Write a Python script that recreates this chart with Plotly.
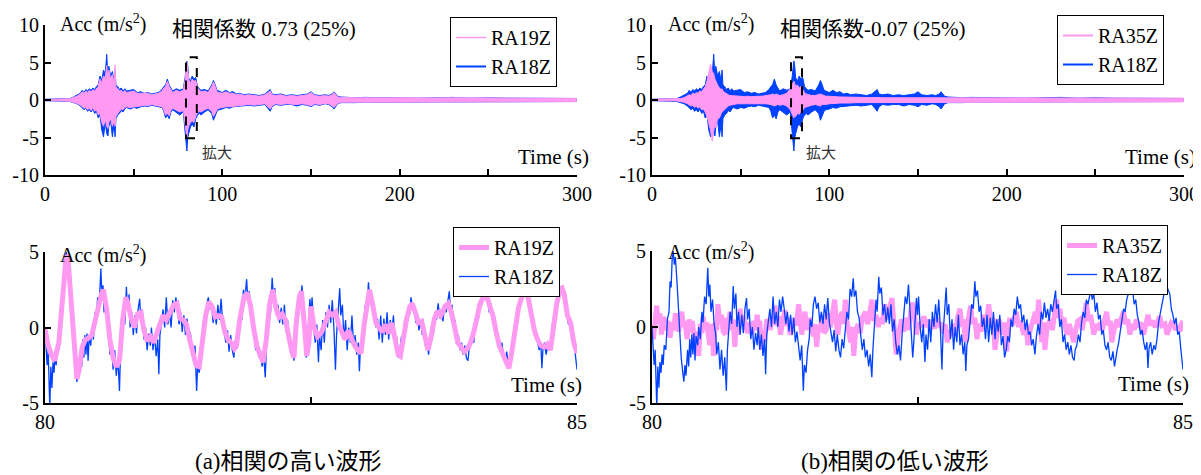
import plotly.graph_objects as go

# ---------------- DATA ----------------
PINK = "#FF99F2"
BLUE = "#0040FF"

# Top panels: envelope (upper / lower) of the 0-300 s records
T_TOP = [0, 5, 10, 14, 16, 18, 20, 21, 22, 23, 24, 25, 26, 27, 28, 29, 30, 31, 32, 33, 34, 34.8, 35.5, 36, 37, 38, 39,
         39.5, 40, 41, 42, 43, 44, 45, 46, 48, 50, 52, 54, 56, 58, 60, 62, 64, 66, 67, 68, 69, 70, 71, 72, 74, 76, 78,
         79, 80, 80.5, 81, 82, 83, 84, 85, 86, 87, 88, 90, 92, 94, 95, 96, 97, 98, 100, 102, 104, 106, 108, 110, 112,
         115, 118, 121, 124, 127, 128, 130, 133, 136, 139, 142, 145, 148, 150, 152, 155, 158, 160, 162, 163, 165, 167,
         170, 175, 180, 190, 200, 210, 220, 230, 240, 250, 260, 270, 280, 290, 299.6]

RA18Z_TOP_UP = [0.1, 0.12, 0.15, 0.2, 0.4, 0.6, 0.9, 1.3, 1.0, 1.4, 1.2, 1.5, 1.3, 1.6, 1.4, 1.8, 2.0, 3.2, 2.6, 4.0,
                3.5, 6.1, 3.0, 4.5, 3.2, 3.8, 2.5, 4.0, 2.0, 1.8, 1.4, 1.6, 1.2, 1.5, 1.2, 1.3, 1.4, 1.0, 1.1, 0.9,
                1.0, 0.8, 0.9, 1.0, 1.4, 1.8, 2.0, 2.8, 2.0, 1.5, 1.2, 1.5, 1.3, 1.5, 3.0, 5.2, 4.5, 3.0, 2.5, 3.2,
                2.8, 3.0, 1.8, 1.5, 1.3, 1.4, 1.2, 2.0, 2.6, 2.0, 1.3, 1.2, 1.0, 1.3, 1.0, 1.1, 0.8, 0.9, 0.7, 0.8,
                0.7, 0.6, 0.8, 1.4, 0.8, 0.7, 0.8, 0.6, 0.7, 0.6, 0.7, 0.8, 1.1, 0.7, 0.6, 0.7, 0.6, 0.8, 1.1, 0.5,
                0.4, 0.35, 0.3, 0.35, 0.3, 0.3, 0.25, 0.3, 0.35, 0.25, 0.3, 0.25, 0.25, 0.2, 0.2, 0.2]
RA18Z_TOP_LO = [-0.1, -0.12, -0.15, -0.2, -0.35, -0.5, -0.8, -1.0, -1.3, -1.1, -1.5, -1.3, -1.6, -1.2, -1.8, -1.5,
                -2.4, -2.0, -4.0, -4.9, -3.0, -4.5, -4.8, -3.5, -2.8, -4.9, -3.2, -4.9, -2.5, -2.0, -1.8, -1.4, -1.6,
                -1.2, -1.0, -1.2, -1.0, -1.1, -0.9, -0.8, -0.9, -0.7, -0.8, -0.9, -1.0, -1.5, -2.4, -2.0, -2.5, -1.6,
                -1.3, -1.6, -2.0, -1.6, -4.0, -6.8, -5.0, -4.5, -3.6, -3.2, -3.6, -2.5, -2.0, -1.8, -2.0, -1.6, -1.3,
                -1.8, -2.7, -2.0, -1.5, -1.3, -1.2, -1.0, -1.1, -0.9, -0.9, -0.8, -0.8, -0.7, -0.8, -0.7, -0.6, -1.5,
                -0.9, -0.6, -0.7, -0.6, -0.6, -0.8, -0.6, -0.7, -0.9, -0.6, -0.7, -0.5, -0.6, -0.9, -1.2, -0.5, -0.35,
                -0.3, -0.35, -0.3, -0.3, -0.25, -0.3, -0.25, -0.3, -0.25, -0.25, -0.3, -0.2, -0.25, -0.2, -0.2]

RA19Z_TOP_UP = [0.08, 0.1, 0.12, 0.18, 0.35, 0.5, 0.8, 1.1, 0.9, 1.2, 1.0, 1.3, 1.1, 1.4, 1.2, 1.5, 1.8, 2.8, 2.3,
                3.2, 3.0, 4.6, 2.8, 4.0, 2.8, 3.4, 2.3, 4.7, 1.8, 1.5, 1.2, 1.3, 1.0, 1.3, 1.0, 1.1, 1.2, 0.9, 0.9,
                0.8, 0.9, 0.7, 0.8, 0.9, 1.2, 1.6, 1.8, 2.5, 1.8, 1.3, 1.0, 1.3, 1.1, 1.3, 2.6, 5.1, 4.0, 2.8, 2.2,
                2.8, 2.5, 2.6, 1.6, 1.3, 1.1, 1.2, 1.0, 1.8, 2.4, 1.8, 1.1, 1.0, 0.9, 1.1, 0.9, 0.9, 0.7, 0.8, 0.6,
                0.7, 0.6, 0.5, 0.7, 1.2, 0.7, 0.6, 0.7, 0.5, 0.6, 0.5, 0.6, 0.7, 1.0, 0.6, 0.5, 0.6, 0.5, 0.7, 1.0,
                0.4, 0.35, 0.3, 0.3, 0.3, 0.28, 0.28, 0.25, 0.28, 0.3, 0.25, 0.28, 0.25, 0.25, 0.22, 0.22, 0.22]
RA19Z_TOP_LO = [-0.08, -0.1, -0.12, -0.18, -0.3, -0.45, -0.7, -0.9, -1.1, -1.0, -1.3, -1.1, -1.4, -1.0, -1.5, -1.3,
                -2.0, -1.8, -3.0, -3.5, -2.6, -3.5, -3.8, -3.0, -2.5, -3.5, -2.8, -3.5, -2.2, -1.8, -1.5, -1.2, -1.3,
                -1.0, -0.9, -1.0, -0.9, -0.9, -0.8, -0.7, -0.8, -0.6, -0.7, -0.8, -0.9, -1.3, -2.0, -1.8, -2.1, -1.4,
                -1.1, -1.4, -1.6, -1.4, -3.0, -5.0, -4.0, -3.5, -3.0, -2.8, -3.0, -2.2, -1.7, -1.5, -1.6, -1.3, -1.1,
                -1.5, -2.2, -1.7, -1.3, -1.1, -1.0, -0.9, -0.9, -0.8, -0.8, -0.7, -0.7, -0.6, -0.7, -0.6, -0.5, -1.2,
                -0.8, -0.5, -0.6, -0.5, -0.5, -0.6, -0.5, -0.6, -0.8, -0.5, -0.6, -0.45, -0.5, -0.8, -1.0, -0.45,
                -0.3, -0.3, -0.3, -0.3, -0.28, -0.25, -0.28, -0.25, -0.28, -0.25, -0.25, -0.28, -0.22, -0.25, -0.22,
                -0.22]

RA35Z_TOP_UP = [0.1, 0.1, 0.1, 0.12, 0.2, 0.3, 0.5, 0.7, 0.6, 0.9, 0.8, 1.0, 0.9, 1.2, 1.1, 1.4, 1.8, 2.5, 3.5, 4.8,
                3.8, 3.5, 2.8, 2.5, 2.0, 1.6, 1.4, 1.5, 1.2, 1.0, 0.8, 0.7, 0.6, 0.6, 0.5, 0.5, 0.5, 0.45, 0.5, 0.45,
                0.5, 0.5, 0.5, 0.55, 0.6, 0.7, 0.8, 0.7, 0.8, 0.7, 0.6, 0.7, 0.9, 1.5, 2.0, 2.5, 2.2, 1.8, 2.0, 1.6,
                1.8, 1.3, 1.0, 0.8, 0.7, 0.6, 0.6, 0.7, 0.8, 0.7, 0.6, 0.5, 0.5, 0.45, 0.45, 0.4, 0.4, 0.38, 0.4,
                0.35, 0.35, 0.35, 0.32, 0.35, 0.32, 0.3, 0.3, 0.3, 0.3, 0.28, 0.3, 0.28, 0.3, 0.28, 0.28, 0.27, 0.27,
                0.28, 0.28, 0.25, 0.25, 0.25, 0.25, 0.25, 0.25, 0.25, 0.25, 0.25, 0.25, 0.25, 0.25, 0.25, 0.25, 0.25,
                0.25, 0.25]
RA35Z_TOP_LO = [-0.1, -0.1, -0.1, -0.12, -0.2, -0.3, -0.5, -0.6, -0.8, -0.7, -1.0, -0.8, -1.1, -0.9, -1.3, -1.2,
                -1.6, -2.2, -3.0, -4.0, -5.5, -4.0, -3.0, -3.7, -2.5, -2.4, -1.8, -1.6, -1.4, -1.2, -1.0, -0.8, -0.7,
                -0.6, -0.6, -0.5, -0.5, -0.5, -0.45, -0.45, -0.5, -0.45, -0.5, -0.5, -0.55, -0.6, -0.7, -0.8, -0.7,
                -0.6, -0.7, -0.6, -0.8, -1.3, -1.8, -2.4, -2.0, -2.2, -1.8, -1.9, -1.5, -1.4, -1.0, -0.9, -0.8, -0.7,
                -0.6, -0.7, -0.8, -0.6, -0.6, -0.6, -0.5, -0.45, -0.45, -0.4, -0.4, -0.38, -0.4, -0.35, -0.35,
                -0.35, -0.32, -0.35, -0.32, -0.3, -0.3, -0.3, -0.3, -0.28, -0.3, -0.28, -0.3, -0.28, -0.28, -0.27,
                -0.27, -0.28, -0.28, -0.25, -0.25, -0.25, -0.25, -0.25, -0.25, -0.25, -0.25, -0.25, -0.25, -0.25,
                -0.25, -0.25, -0.25, -0.25, -0.25, -0.25]

# Bottom panels: 80-85 s zoom
RA18Z_T = [80.00, 80.01, 80.02, 80.03, 80.035, 80.045, 80.055, 80.065, 80.075, 80.085, 80.095, 80.105, 80.115, 80.13,
           80.145, 80.16, 80.17, 80.18, 80.19, 80.20, 80.21, 80.22, 80.235, 80.25, 80.26, 80.275, 80.29, 80.30, 80.31,
           80.32, 80.335, 80.345, 80.355, 80.365, 80.375, 80.385, 80.395, 80.405, 80.415, 80.43, 80.44, 80.455, 80.47,
           80.48, 80.495, 80.51, 80.525, 80.535, 80.545, 80.555, 80.57, 80.585, 80.60, 80.61, 80.625, 80.64, 80.655,
           80.67, 80.685, 80.70, 80.71, 80.72, 80.735, 80.75, 80.765, 80.775, 80.79, 80.80, 80.815, 80.83, 80.845,
           80.86, 80.875, 80.89, 80.90, 80.915, 80.93, 80.945, 80.96, 80.975, 80.99, 81.00, 81.015, 81.03, 81.045,
           81.06, 81.07, 81.08, 81.095, 81.11, 81.125, 81.14, 81.155, 81.17, 81.185, 81.20, 81.215, 81.23, 81.245,
           81.26, 81.275, 81.29, 81.305, 81.32, 81.335, 81.35, 81.365, 81.38, 81.395, 81.41, 81.425, 81.435, 81.45,
           81.465, 81.48, 81.49, 81.505, 81.52, 81.535, 81.55, 81.565, 81.58, 81.595, 81.61, 81.625, 81.64, 81.655,
           81.67, 81.685, 81.70, 81.715, 81.73, 81.745, 81.76, 81.775, 81.79, 81.805, 81.82, 81.835, 81.85, 81.865,
           81.88, 81.895, 81.905, 81.92, 81.935, 81.95, 81.965, 81.98, 81.995, 82.01, 82.025, 82.04, 82.055, 82.07,
           82.08, 82.095, 82.11, 82.12, 82.135, 82.145, 82.16, 82.175, 82.19, 82.205, 82.22, 82.235, 82.25, 82.265,
           82.28, 82.295, 82.31, 82.325, 82.34, 82.355, 82.37, 82.385, 82.40, 82.415, 82.43, 82.44, 82.455, 82.465,
           82.48, 82.49, 82.50, 82.51, 82.525, 82.54, 82.555, 82.57, 82.58, 82.595, 82.61, 82.625, 82.64, 82.655,
           82.67, 82.685, 82.70, 82.715, 82.73, 82.74, 82.755, 82.77, 82.78, 82.795, 82.81, 82.825, 82.84, 82.855,
           82.87, 82.885, 82.90, 82.915, 82.93, 82.945, 82.955, 82.965, 82.98, 82.995, 83.01, 83.025, 83.04, 83.05,
           83.065, 83.08, 83.095, 83.11, 83.125, 83.14, 83.155, 83.17, 83.185, 83.20, 83.215, 83.23, 83.245, 83.26,
           83.275, 83.29, 83.305, 83.32, 83.335, 83.35, 83.365, 83.38, 83.395, 83.41, 83.425, 83.44, 83.455, 83.47,
           83.485, 83.50, 83.515, 83.53, 83.545, 83.56, 83.575, 83.59, 83.605, 83.62, 83.635, 83.65, 83.665, 83.68,
           83.695, 83.71, 83.725, 83.74, 83.755, 83.77, 83.785, 83.80, 83.81, 83.825, 83.84, 83.855, 83.87, 83.885,
           83.90, 83.915, 83.93, 83.945, 83.96, 83.975, 83.985, 84.00, 84.015, 84.03, 84.045, 84.06, 84.075, 84.09,
           84.105, 84.12, 84.135, 84.145, 84.16, 84.175, 84.19, 84.205, 84.22, 84.235, 84.25, 84.265, 84.28, 84.295,
           84.31, 84.325, 84.34, 84.355, 84.365, 84.38, 84.395, 84.41, 84.425, 84.44, 84.455, 84.47, 84.485, 84.50,
           84.51, 84.525, 84.54, 84.555, 84.57, 84.585, 84.60, 84.615, 84.63, 84.645, 84.66, 84.67, 84.68, 84.695,
           84.71, 84.725, 84.74, 84.755, 84.77, 84.785, 84.80, 84.815, 84.83, 84.845, 84.86, 84.875, 84.89, 84.905,
           84.92, 84.935, 84.95, 84.965, 84.98, 84.99, 85.00]
RA18Z_V = [0.0, -1.0, -2.5, -1.5, -3.8, -5.3, -2.6, -4.0, -2.3, -3.0, -1.8, -2.5, -1.2, -1.5, 0.5, 1.0, 3.0, 2.6, 4.5,
           5.0, 4.1, 4.6, 3.0, 1.0, -0.5, -2.0, -3.0, -3.6, -2.5, -3.2, -1.5, -2.6, -0.8, -2.0, -0.5, -1.8, -0.4, -2.2,
           -0.6, -1.2, 0.0, -0.8, 1.0, 0.3, 2.0, 1.5, 3.9, 2.0, 2.8, 1.0, 1.8, 0.2, -0.5, -1.8, -1.0, -2.8, -1.5, -3.2,
           -2.0, -4.2, -1.5, -0.5, 1.0, 0.2, 2.7, 1.2, 2.2, 0.0, 1.0, -0.5, 0.8, -0.4, 1.2, 1.9, 0.5, 1.2, -0.8, 0.0,
           -1.5, -0.4, -1.2, 0.0, -1.5, -0.5, -1.9, -0.8, -3.1, -0.5, 0.5, 1.2, 0.0, 2.0, 0.2, 1.0, 0.0, 1.8, 1.0, 2.0,
           1.2, 0.2, 1.0, -0.3, 0.8, -0.5, 0.6, -1.0, -0.3, -1.5, -2.2, -1.2, -4.2, -2.5, -3.0, -1.5, -0.8, 0.5, 0.0,
           1.5, 2.0, 1.2, 1.6, 0.3, 1.0, 0.2, 1.5, 0.5, 1.9, 0.3, -0.5, -1.0, -0.2, -1.6, -0.5, -1.5, -2.0, -0.8, -1.4,
           0.0, 1.0, 0.5, 2.5, 2.0, 3.2, 2.0, 2.4, 1.0, 0.6, -0.5, -1.5, -0.8, -2.0, -1.5, -2.6, -1.8, -3.3, -1.5, 0.5,
           1.8, 1.0, 3.3, 2.2, 2.6, 0.8, 1.5, 0.3, 1.3, 0.2, 1.5, -0.3, 0.5, -1.0, -1.8, -1.2, -2.2, -0.5, 1.0, 2.0,
           1.5, 2.8, 1.0, -0.5, -2.0, -1.0, 0.5, 1.9, 0.8, 2.0, 0.0, -1.0, 0.2, -2.3, -0.5, -1.5, 0.5, -1.0, 1.0, 0.0,
           1.5, 0.3, 1.8, 0.0, -2.8, -0.5, 1.0, 2.6, 0.8, 1.5, -0.8, 0.5, -1.5, 0.0, -1.0, 0.8, -1.2, -0.5, -1.8, -1.0,
           -2.9, -1.2, -0.8, 0.5, 1.5, 1.2, 3.0, 2.0, 2.4, 1.0, 1.4, 0.0, 0.6, -0.8, 0.8, -1.0, 0.6, -0.5, 1.0, -0.8,
           0.5, -0.3, 0.8, -1.2, -0.6, -2.0, -1.5, -0.6, -1.0, 0.5, 0.0, 1.2, 0.8, 2.0, 1.2, 1.5, 0.3, 0.8, -0.2, 0.5,
           -0.5, -0.3, -1.2, -0.8, -1.8, -0.6, 0.2, -0.5, 1.0, 0.5, 1.6, 0.6, 1.2, 0.4, 1.5, 1.0, 1.8, 2.4, 1.2, 1.5,
           0.0, 0.5, -1.0, -0.5, -1.5, -1.0, -1.8, -1.2, -2.0, -2.2, -1.5, -1.2, -0.5, -1.0, 0.3, 1.0, 0.6, 1.8, 1.5,
           2.0, 2.5, 1.8, 2.2, 1.0, 1.6, 0.5, 0.8, -0.5, -0.2, -1.2, -1.5, -1.0, -2.0, -2.2, -1.6, -2.6, -2.0, -1.5,
           -1.0, -0.3, 0.5, 1.2, 1.0, 1.8, 2.2, 2.8, 2.2, 2.5, 1.5, 1.8, 0.8, 0.3, -0.5, -0.2, -1.0, -1.5, -1.0, -2.7,
           -1.4, -1.0, -1.8, -1.2, -1.5, -0.8, 0.3, 0.8, 1.5, 1.8, 2.5, 2.7, 2.5, 2.2, 1.2, 0.8, 0.2, 0.6, -0.5, -0.3,
           -1.5, -2.0, -2.8]

RA19Z_T = [80.00, 80.03, 80.06, 80.09, 80.11, 80.13, 80.16, 80.18, 80.20, 80.22, 80.25, 80.28, 80.30, 80.32, 80.35,
           80.38, 80.41, 80.44, 80.47, 80.50, 80.53, 80.55, 80.58, 80.61, 80.64, 80.67, 80.70, 80.73, 80.76, 80.78,
           80.81, 80.84, 80.87, 80.90, 80.93, 80.96, 80.99, 81.02, 81.05, 81.08, 81.11, 81.14, 81.17, 81.21, 81.24,
           81.27, 81.30, 81.33, 81.36, 81.39, 81.42, 81.45, 81.48, 81.51, 81.54, 81.57, 81.60, 81.63, 81.66, 81.69,
           81.72, 81.75, 81.78, 81.80, 81.83, 81.87, 81.90, 81.93, 81.96, 81.99, 82.02, 82.05, 82.08, 82.11, 82.14,
           82.17, 82.20, 82.23, 82.26, 82.29, 82.32, 82.34, 82.36, 82.39, 82.41, 82.44, 82.46, 82.48, 82.50, 82.53,
           82.56, 82.60, 82.64, 82.67, 82.70, 82.73, 82.76, 82.79, 82.82, 82.85, 82.88, 82.91, 82.94, 82.97, 83.00,
           83.03, 83.05, 83.08, 83.11, 83.14, 83.17, 83.20, 83.23, 83.26, 83.29, 83.32, 83.34, 83.37, 83.40, 83.43,
           83.45, 83.48, 83.51, 83.54, 83.57, 83.60, 83.63, 83.66, 83.69, 83.72, 83.76, 83.79, 83.82, 83.85, 83.88,
           83.91, 83.94, 83.97, 84.00, 84.03, 84.06, 84.09, 84.12, 84.15, 84.18, 84.21, 84.24, 84.27, 84.30, 84.33,
           84.36, 84.39, 84.42, 84.45, 84.48, 84.51, 84.54, 84.57, 84.60, 84.63, 84.66, 84.69, 84.72, 84.75, 84.78,
           84.81, 84.84, 84.86, 84.88, 84.91, 84.94, 84.97, 85.00]
RA19Z_V = [-0.1, -1.2, -1.8, -2.2, -1.6, -1.0, 1.5, 3.5, 4.8, 4.2, 1.5, -1.5, -3.4, -2.8, -1.3, -0.8, -0.7, -0.5, 0.5,
           1.5, 2.2, 2.5, 1.2, -0.8, -2.0, -2.6, -2.2, 0.5, 2.0, 1.6, 0.6, 0.0, 0.9, 1.0, -0.2, -0.9, -0.6, -1.0, -0.4,
           0.3, 0.8, 0.5, 0.9, 1.5, 1.6, 0.6, 0.5, 0.2, -0.8, -1.8, -2.5, -2.6, -1.0, 0.8, 1.7, 1.4, 0.7, 0.8, 0.7,
           -0.3, -0.8, -1.0, -1.4, -1.2, 0.5, 2.0, 2.3, 1.5, 0.0, -1.2, -1.8, -2.3, -0.8, 1.5, 2.5, 1.3, 0.7, 0.9, 0.5,
           -0.8, -1.6, -2.0, 0.2, 2.0, 2.4, 0.0, -1.9, -1.0, 1.4, 0.0, -0.6, -0.3, 0.6, 1.0, 0.8, 1.0, 0.2, -0.3, -0.8,
           -0.2, -0.8, -1.2, -1.5, -1.7, 0.2, 2.0, 2.5, 1.5, 0.3, 0.0, -0.3, 0.2, -0.4, 0.3, -0.8, -1.8, -1.9, -0.5,
           0.6, 1.4, 1.6, 1.0, 0.3, 0.4, -0.5, -1.5, -0.6, 0.6, 1.1, 0.8, 1.4, 1.6, 1.0, -0.2, -1.0, -1.3, -1.6, -1.4,
           -1.0, -0.3, 0.8, 1.6, 2.0, 2.2, 1.4, 0.8, -0.3, -1.2, -1.7, -2.3, -2.7, -1.5, 0.0, 1.3, 2.0, 2.5, 2.0, 0.8,
           -0.2, -0.8, -1.2, -1.3, -1.1, -1.5, 0.0, 1.6, 2.5, 2.6, 2.2, 0.8, 0.3, -1.0, -1.7]

RA35Z_T = [80.000, 80.013, 80.028, 80.044, 80.060, 80.075, 80.090, 80.105, 80.120, 80.135, 80.150, 80.170, 80.190,
           80.205, 80.220, 80.235, 80.250, 80.265, 80.280, 80.295, 80.310, 80.330, 80.350, 80.365, 80.380, 80.400,
           80.420, 80.440, 80.455, 80.470, 80.480, 80.500, 80.515, 80.530, 80.545, 80.560, 80.580, 80.595, 80.610,
           80.620, 80.640, 80.655, 80.670, 80.690, 80.705, 80.720, 80.735, 80.750, 80.765, 80.780, 80.795, 80.810,
           80.830, 80.845, 80.860, 80.880, 80.900, 80.920, 80.940, 80.960, 80.975, 80.990, 81.005, 81.015, 81.030,
           81.045, 81.060, 81.080, 81.100, 81.115, 81.130, 81.145, 81.160, 81.175, 81.190, 81.210, 81.230, 81.250,
           81.270, 81.285, 81.300, 81.320, 81.340, 81.360, 81.380, 81.395, 81.410, 81.425, 81.440, 81.460, 81.480,
           81.500, 81.520, 81.535, 81.550, 81.570, 81.585, 81.600, 81.620, 81.640, 81.660, 81.680, 81.700, 81.720,
           81.735, 81.750, 81.770, 81.790, 81.805, 81.820, 81.835, 81.850, 81.870, 81.885, 81.900, 81.915, 81.940,
           81.960, 81.980, 82.010, 82.030, 82.050, 82.070, 82.090, 82.110, 82.130, 82.150, 82.170, 82.190, 82.210,
           82.230, 82.260, 82.280, 82.300, 82.320, 82.350, 82.370, 82.390, 82.410, 82.430, 82.450, 82.465, 82.490,
           82.510, 82.530, 82.560, 82.580, 82.600, 82.620, 82.640, 82.660, 82.680, 82.700, 82.720, 82.740, 82.760,
           82.780, 82.800, 82.820, 82.840, 82.860, 82.880, 82.900, 82.920, 82.935, 82.950, 82.970, 82.985, 83.000,
           83.020, 83.040, 83.060, 83.080, 83.100, 83.120, 83.140, 83.155, 83.170, 83.190, 83.210, 83.230, 83.250,
           83.265, 83.280, 83.300, 83.320, 83.340, 83.355, 83.370, 83.390, 83.410, 83.430, 83.450, 83.470, 83.500,
           83.520, 83.540, 83.560, 83.590, 83.610, 83.625, 83.640, 83.655, 83.670, 83.685, 83.700, 83.720, 83.735,
           83.750, 83.770, 83.790, 83.810, 83.825, 83.840, 83.860, 83.880, 83.900, 83.910, 83.930, 83.950, 83.970,
           83.990, 84.010, 84.030, 84.050, 84.070, 84.090, 84.110, 84.130, 84.160, 84.180, 84.200, 84.220, 84.240,
           84.260, 84.280, 84.300, 84.315, 84.330, 84.350, 84.380, 84.400, 84.420, 84.440, 84.460, 84.480, 84.500,
           84.520, 84.540, 84.560, 84.580, 84.600, 84.630, 84.650, 84.670, 84.690, 84.710, 84.740, 84.760, 84.780,
           84.800, 84.830, 84.850, 84.870, 84.890, 84.910, 84.930, 84.950, 84.970, 84.985, 85.000]
RA35Z_V = [0.0, -0.8, 0.3, 1.4, 0.2, 0.9, -0.5, 0.6, 0.5, -0.2, 0.4, -0.7, 0.3, -0.2, 0.9, 0.1, -0.3, 0.5, 1.0, 0.0,
           0.4, -0.8, 0.5, -0.3, 0.4, -1.0, -0.3, -1.9, 0.2, -0.4, 0.7, -0.2, 0.3, -0.5, -1.2, 0.2, -1.9, 0.3, -0.2,
           1.5, 0.2, 0.8, -0.3, -0.5, 0.6, 0.1, 1.0, -0.2, 0.5, -1.3, 0.4, -0.5, 1.2, 0.2, 0.7, 0.1, -0.4, 0.3, -0.5,
           0.4, -0.2, 0.8, 0.0, 0.4, -1.5, -0.2, -1.0, 0.5, 0.3, -0.2, 0.8, 0.2, 1.4, 0.1, 0.7, -0.5, 0.4, 1.1, 0.1,
           0.6, -0.5, -0.2, 0.6, 0.1, 1.5, 0.3, -0.5, 0.4, 1.0, -0.2, 0.6, 0.0, -0.6, 0.2, -1.3, 0.1, -0.3, 0.8, -0.4,
           -0.2, 0.9, 0.0, 1.0, 1.8, 0.3, -0.5, 0.6, 1.0, 0.2, 1.8, 0.4, -0.5, -1.0, 0.0, -1.9, -0.5, 0.2, -0.4, 0.6,
           1.0, 0.2, 0.9, 1.8, 0.4, 0.8, 0.0, 0.6, 0.2, 1.5, 0.5, 1.0, 1.9, 0.0, -1.8, -0.5, 0.5, -0.3, 0.6, -0.2, 0.5,
           1.6, 1.2, -0.5, 0.3, 0.0, 0.7, 0.0, 0.5, -0.2, 0.4, -0.1, 0.6, 0.0, 0.3, -0.4, 0.2, -1.0, -0.2, -0.6, 0.2,
           -0.3, 0.7, 1.2, 0.0, 0.5, -1.0, 0.3, 0.8, 1.4, 0.2, 0.6, -0.8, 0.2, -0.3, 0.8, 0.0, 0.6, 1.5, 0.3, 0.6,
           -1.5, -0.3, 0.5, 0.2, -0.5, 0.3, -1.6, -0.2, 0.6, 0.1, 0.6, 1.0, 0.0, 0.4, -0.5, 0.2, -1.2, -0.2, 0.5, 1.0,
           0.2, 1.8, 0.5, -1.0, 0.3, -1.5, 0.0, 0.3, 0.5, -0.2, 0.8, 1.8, 0.6, 1.2, 0.2, 0.6, -0.3, -0.5, 0.2, -0.4,
           -1.0, -0.2, 0.4, 0.5, -0.2, 0.6, 1.6, 0.4, 0.8, -0.5, 0.2, -0.2, 0.3, -0.2, 0.6, 1.0, 0.1, 0.4, -1.0, -0.2,
           0.5, 0.0, 0.6, 1.0, 0.2, 0.5, -0.5, 0.2, -0.2, 0.5, 0.0, 0.3, -0.5, 0.2, 0.8, 0.1, 0.4, 0.0, 0.3, 0.7, 0.1,
           0.2, -0.5, 0.0, 0.3, 0.2, -0.2, 0.1, -0.3, 0.2, 0.4]

TOP_XTICKS = [0, 100, 200, 300]
TOP_XTEXT = ["0", "100", "200", "300"]
TOP_XMINOR = [50, 150, 250]
TOP_YTICKS = [-10, -5, 0, 5, 10]
TOP_YTEXT = ["-10", "-5", "0", "5", "10"]
BOT_XTICKS = [80, 85]
BOT_XTEXT = ["80", "85"]
BOT_XMINOR = [82.5]
BOT_YTICKS = [-5, 0, 5]
BOT_YTEXT = ["-5", "0", "5"]

# ---------------- FIGURE ----------------
W, H = 1201, 475
OFF = 8  # the page body has an 8 px margin; positions below are given in window pixels
SERIF = "Liberation Serif, Noto Sans CJK JP"


def px(x):
    return (x - OFF) / W


def py(y):
    return 1 - (y - OFF) / H


def envelope(t, up, lo):
    return list(t) + list(t)[::-1], list(up) + list(lo)[::-1]


fig = go.Figure()

# top-left
ex, ey = envelope(T_TOP, RA18Z_TOP_UP, RA18Z_TOP_LO)
fig.add_trace(go.Scatter(x=ex, y=ey, fill="toself", fillcolor=BLUE, mode="lines",
                         line=dict(color=BLUE, width=1), showlegend=False, xaxis="x", yaxis="y", hoverinfo="skip"))
ex, ey = envelope(T_TOP, RA19Z_TOP_UP, RA19Z_TOP_LO)
fig.add_trace(go.Scatter(x=ex, y=ey, fill="toself", fillcolor=PINK, mode="lines",
                         line=dict(color=PINK, width=1), showlegend=False, xaxis="x", yaxis="y", hoverinfo="skip"))
fig.add_trace(go.Scatter(x=[None], y=[None], mode="lines", line=dict(color=PINK, width=1.5), name="RA19Z",
                         legend="legend", legendrank=1, xaxis="x", yaxis="y"))
fig.add_trace(go.Scatter(x=[None], y=[None], mode="lines", line=dict(color=BLUE, width=2), name="RA18Z",
                         legend="legend", legendrank=2, xaxis="x", yaxis="y"))

# top-right
ex, ey = envelope(T_TOP, RA18Z_TOP_UP, RA18Z_TOP_LO)
fig.add_trace(go.Scatter(x=ex, y=ey, fill="toself", fillcolor=BLUE, mode="lines",
                         line=dict(color=BLUE, width=1), showlegend=False, xaxis="x2", yaxis="y2", hoverinfo="skip"))
ex, ey = envelope(T_TOP, RA35Z_TOP_UP, RA35Z_TOP_LO)
fig.add_trace(go.Scatter(x=ex, y=ey, fill="toself", fillcolor=PINK, mode="lines",
                         line=dict(color=PINK, width=1), showlegend=False, xaxis="x2", yaxis="y2", hoverinfo="skip"))
fig.add_trace(go.Scatter(x=[None], y=[None], mode="lines", line=dict(color=PINK, width=2), name="RA35Z",
                         legend="legend2", legendrank=1, xaxis="x2", yaxis="y2"))
fig.add_trace(go.Scatter(x=[None], y=[None], mode="lines", line=dict(color=BLUE, width=2), name="RA18Z",
                         legend="legend2", legendrank=2, xaxis="x2", yaxis="y2"))

# bottom-left (pink on top)
fig.add_trace(go.Scatter(x=RA18Z_T, y=RA18Z_V, mode="lines", line=dict(color=BLUE, width=1.3), name="RA18Z",
                         legend="legend3", legendrank=2, xaxis="x3", yaxis="y3"))
fig.add_trace(go.Scatter(x=RA19Z_T, y=RA19Z_V, mode="lines", line=dict(color=PINK, width=5), name="RA19Z",
                         legend="legend3", legendrank=1, xaxis="x3", yaxis="y3"))

# bottom-right (blue on top)
fig.add_trace(go.Scatter(x=RA35Z_T, y=RA35Z_V, mode="lines", line=dict(color=PINK, width=5), name="RA35Z",
                         legend="legend4", legendrank=1, xaxis="x4", yaxis="y4"))
fig.add_trace(go.Scatter(x=RA18Z_T, y=RA18Z_V, mode="lines", line=dict(color=BLUE, width=1.3), name="RA18Z",
                         legend="legend4", legendrank=2, xaxis="x4", yaxis="y4"))

axis_common = dict(showline=True, linecolor="black", linewidth=2, ticks="inside", ticklen=6, tickwidth=2,
                   tickcolor="black", showgrid=False, zeroline=False, automargin=False,
                   tickfont=dict(family=SERIF, size=20, color="black"), tickmode="array", fixedrange=True)


def minor(vals):
    return dict(tickmode="array", tickvals=vals, ticks="inside", ticklen=6, tickwidth=2, tickcolor="black",
                showgrid=False)


fig.update_layout(
    width=W, height=H, margin=dict(l=0, r=0, t=0, b=0, autoexpand=False),
    paper_bgcolor="white", plot_bgcolor="white", font=dict(family=SERIF, color="black"),
    xaxis=dict(domain=[px(45), px(577)], range=[0, 300], anchor="y", tickvals=TOP_XTICKS, ticktext=TOP_XTEXT,
               minor=minor(TOP_XMINOR), **axis_common),
    yaxis=dict(domain=[py(175), py(25)], range=[-10, 10], anchor="x", tickvals=TOP_YTICKS, ticktext=TOP_YTEXT,
               **axis_common),
    xaxis2=dict(domain=[px(652), px(1184)], range=[0, 300], anchor="y2", tickvals=TOP_XTICKS, ticktext=TOP_XTEXT,
                minor=minor(TOP_XMINOR), **axis_common),
    yaxis2=dict(domain=[py(175), py(25)], range=[-10, 10], anchor="x2", tickvals=TOP_YTICKS, ticktext=TOP_YTEXT,
                **axis_common),
    xaxis3=dict(domain=[px(45), px(577)], range=[80, 85], anchor="y3", tickvals=BOT_XTICKS, ticktext=BOT_XTEXT,
                minor=minor(BOT_XMINOR), **axis_common),
    yaxis3=dict(domain=[py(403), py(252)], range=[-5, 5], anchor="x3", tickvals=BOT_YTICKS, ticktext=BOT_YTEXT,
                **axis_common),
    xaxis4=dict(domain=[px(652), px(1183)], range=[80, 85], anchor="y4", tickvals=BOT_XTICKS, ticktext=BOT_XTEXT,
                minor=minor(BOT_XMINOR), **axis_common),
    yaxis4=dict(domain=[py(403), py(251)], range=[-5, 5], anchor="x4", tickvals=BOT_YTICKS, ticktext=BOT_YTEXT,
                **axis_common),
)

leg_common = dict(xanchor="left", yanchor="top", bordercolor="black", borderwidth=1, bgcolor="white",
                  font=dict(family=SERIF, size=20, color="black"), tracegroupgap=0, itemwidth=30)
fig.update_layout(
    legend=dict(x=px(450), y=py(17), **leg_common),
    legend2=dict(x=px(1057), y=py(15), **leg_common),
    legend3=dict(x=px(453), y=py(227), **leg_common),
    legend4=dict(x=px(1061), y=py(225), **leg_common),
)

# dashed zoom boxes
for xr, yr, x0, x1 in [("x", "y", 79.5, 85.6), ("x2", "y2", 78.4, 84.6)]:
    fig.add_shape(type="rect", xref=xr, yref=yr, x0=x0, x1=x1, y0=-5.1, y1=5.7,
                  line=dict(color="black", width=2, dash="dash"), fillcolor="rgba(0,0,0,0)", layer="above")


def ann(text, x, y, size, xanchor="left", family=SERIF, color="black"):
    fig.add_annotation(text=text, x=px(x), y=py(y), xref="paper", yref="paper", showarrow=False,
                       xanchor=xanchor, yanchor="middle", font=dict(family=family, size=size, color=color))


ACC = "Acc (m/s<sup>2</sup>)"
ann(ACC, 58, 24, 20)
ann(ACC, 666, 24, 20)
ann(ACC, 58, 254, 20)
ann(ACC, 666, 252, 20)
ann("相関係数 0.73 (25%)", 170, 29, 21)
ann("相関係数-0.07 (25%)", 778, 29, 21)
ann("Time (s)", 591, 157, 21, xanchor="right")
ann("Time (s)", 1198, 157, 21, xanchor="right")
ann("Time (s)", 584, 385, 21, xanchor="right")
ann("Time (s)", 1191, 384, 21, xanchor="right")
ann("拡大", 217, 152, 15, xanchor="center", family="Noto Sans CJK JP", color="#333333")
ann("拡大", 821, 151, 15, xanchor="center", family="Noto Sans CJK JP", color="#333333")
ann("(a)相関の高い波形", 288, 461, 23, xanchor="center")
ann("(b)相関の低い波形", 895, 461, 23, xanchor="center")

fig.write_html("out.html")
